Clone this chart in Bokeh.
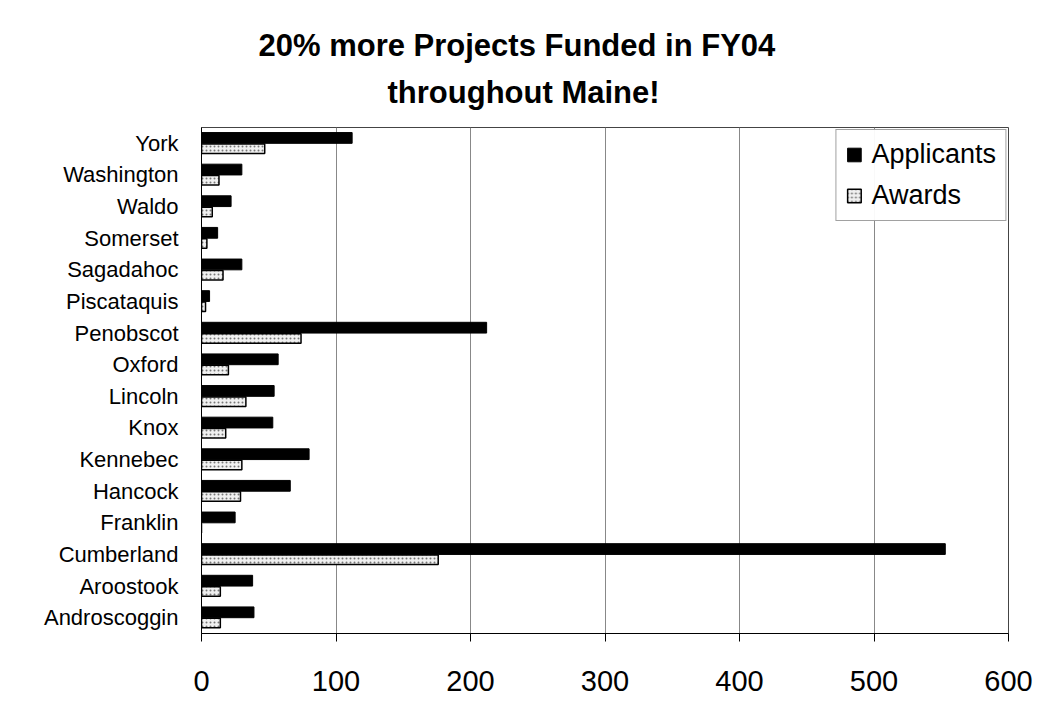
from bokeh.plotting import figure
from bokeh.models import FactorRange, Range1d, Legend, LegendItem, Title, FixedTicker
from bokeh.transform import dodge
from bokeh.models import ColumnDataSource
from bokeh.embed import file_html
from bokeh.resources import INLINE

counties = ["Androscoggin", "Aroostook", "Cumberland", "Franklin", "Hancock", "Kennebec",
            "Knox", "Lincoln", "Oxford", "Penobscot", "Piscataquis", "Sagadahoc",
            "Somerset", "Waldo", "Washington", "York"]
applicants = [39, 38, 553, 25, 66, 80, 53, 54, 57, 212, 6, 30, 12, 22, 30, 112]
awards = [14, 14, 176, 0, 29, 30, 18, 33, 20, 74, 3, 16, 4, 8, 13, 47]
x_ticks = [0, 100, 200, 300, 400, 500, 600]
title_lines = ["20%  more Projects Funded in FY04", "throughout Maine!"]

src = ColumnDataSource(dict(county=counties, applicants=applicants, awards=awards))

FONT = "Liberation Sans"

p = figure(width=1036, height=714, y_range=FactorRange(*counties), x_range=Range1d(0, 600),
           output_backend="svg", toolbar_location=None,
           min_border_left=201, min_border_right=28, min_border_top=127, min_border_bottom=81)

p.add_layout(Title(text=title_lines[1], align="left", offset=186, text_font=FONT,
                   text_font_size="31px", text_font_style="bold", text_color="black",
                   standoff=35), "above")
p.add_layout(Title(text=title_lines[0], align="left", offset=57, text_font=FONT,
                   text_font_size="31px", text_font_style="bold", text_color="black",
                   standoff=-15), "above")

r1 = p.hbar(y=dodge("county", 0.17, range=p.y_range), right="applicants", left=0, height=0.34,
            source=src, fill_color="black", line_color="black", line_width=1)
r2 = p.hbar(y=dodge("county", -0.17, range=p.y_range), right="awards", left=0, height=0.3,
            source=src, fill_color="#f0f0f0", line_color="black", line_width=1.5,
            hatch_pattern="dot", hatch_color="#777777", hatch_scale=4, hatch_weight=1)

legend = Legend(items=[LegendItem(label="Applicants", renderers=[r1]),
                       LegendItem(label="Awards", renderers=[r2])],
                location="top_right", label_text_font=FONT, label_text_font_size="27px",
                label_text_color="black",
                border_line_color="#444444", border_line_width=1, margin=2, padding=9,
                spacing=10, glyph_width=17, glyph_height=17, label_standoff=9)
p.add_layout(legend)

p.xgrid.grid_line_color = "#888888"
p.xgrid.grid_line_width = 1
p.ygrid.grid_line_color = None
p.outline_line_color = "#444444"

p.xaxis.ticker = FixedTicker(ticks=x_ticks)
p.xaxis.major_label_text_font = FONT
p.xaxis.major_label_text_font_size = "29px"
p.xaxis.major_label_text_color = "black"
p.xaxis.major_tick_in = 0
p.xaxis.major_tick_out = 8
p.xaxis.major_tick_line_color = "black"
p.xaxis.minor_tick_line_color = None
p.xaxis.axis_line_color = "black"
p.xaxis.major_label_standoff = 29

p.yaxis.major_label_text_font = FONT
p.yaxis.major_label_text_font_size = "22px"
p.yaxis.major_label_text_color = "black"
p.yaxis.major_tick_line_color = None
p.yaxis.minor_tick_line_color = None
p.yaxis.axis_line_color = "black"
p.yaxis.major_label_standoff = 17

open("out.html", "w").write(file_html(p, INLINE))
